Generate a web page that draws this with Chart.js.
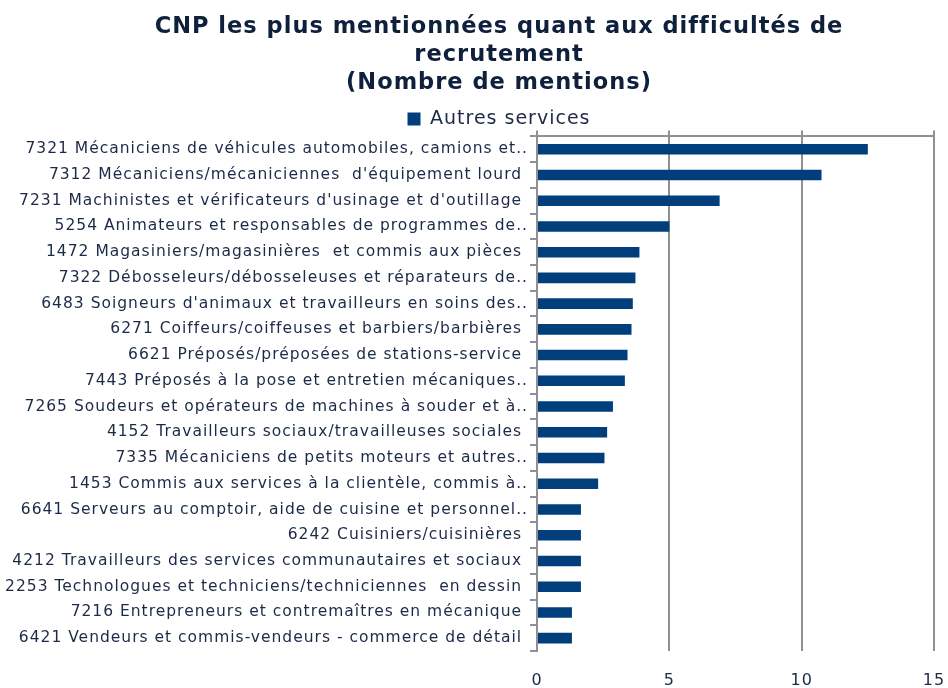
<!DOCTYPE html>
<html>
<head>
<meta charset="utf-8">
<script src="https://cdn.jsdelivr.net/npm/chart.js@4"></script>
<style>
  html, body { margin: 0; padding: 0; background: #fff; }
  #wrap { width: 948px; height: 688px; }
</style>
</head>
<body>
<div id="wrap"><canvas id="myChart"></canvas></div>
<script>
// CNP codes, as labelled on the chart (truncated ones keep their "..")
const categories = [
  '7321 Mécaniciens de véhicules automobiles, camions et..',
  '7312 Mécaniciens/mécaniciennes  d\'équipement lourd ',
  '7231 Machinistes et vérificateurs d\'usinage et d\'outillage ',
  '5254 Animateurs et responsables de programmes de..',
  '1472 Magasiniers/magasinières  et commis aux pièces ',
  '7322 Débosseleurs/débosseleuses et réparateurs de..',
  '6483 Soigneurs d\'animaux et travailleurs en soins des..',
  '6271 Coiffeurs/coiffeuses et barbiers/barbières ',
  '6621 Préposés/préposées de stations-service ',
  '7443 Préposés à la pose et entretien mécaniques..',
  '7265 Soudeurs et opérateurs de machines à souder et à..',
  '4152 Travailleurs sociaux/travailleuses sociales ',
  '7335 Mécaniciens de petits moteurs et autres..',
  '1453 Commis aux services à la clientèle, commis à..',
  '6641 Serveurs au comptoir, aide de cuisine et personnel..',
  '6242 Cuisiniers/cuisinières ',
  '4212 Travailleurs des services communautaires et sociaux ',
  '2253 Technologues et techniciens/techniciennes  en dessin ',
  '7216 Entrepreneurs et contremaîtres en mécanique ',
  '6421 Vendeurs et commis-vendeurs - commerce de détail '
];

// Nombre de mentions, "Autres services"
const autresServices = [12.5, 10.75, 6.9, 5.0, 3.87, 3.72, 3.62, 3.57, 3.42, 3.32,
  2.87, 2.65, 2.55, 2.31, 1.66, 1.66, 1.66, 1.66, 1.32, 1.32];

const xMin = 0;
const xMax = 15;
const xStep = 5;

const titleLines = [
  'CNP les plus mentionnées quant aux difficultés de',
  'recrutement',
  '(Nombre de mentions)'
];

const navy = '#1b2a47';
const barBlue = '#003e7c';
const gridGrey = '#8e9096';

// the original text is set wide, so add a little tracking to the canvas
// (set again before layout and draw, since a canvas resize resets the context)
const tracking = {
  id: 'tracking',
  beforeLayout(chart) { chart.ctx.letterSpacing = '1px'; },
  beforeDraw(chart) { chart.ctx.letterSpacing = '1px'; },
};

// title and legend are centred a bit right of the canvas centre in the original
const shiftHeader = {
  id: 'shiftHeader',
  afterLayout(chart) {
    if (chart.titleBlock) chart.titleBlock.left = 64;
    if (chart.legend) chart.legend.left = 64;
  },
};

const ctx = document.getElementById('myChart').getContext('2d');
new Chart(ctx, {
  type: 'bar',
  data: {
    labels: categories,
    datasets: [
      {
        label: 'Autres services',
        data: autresServices,
        backgroundColor: barBlue,
        borderWidth: 0,
        barPercentage: 0.41,
        categoryPercentage: 1,
      },
    ],
  },
  plugins: [tracking, shiftHeader],
  options: {
    indexAxis: 'y',
    responsive: true,
    maintainAspectRatio: false,
    animation: false,
    layout: { padding: { left: 0, right: 14, top: 0, bottom: 0 } },
    plugins: {
      title: {
        display: true,
        text: titleLines,
        color: '#0f203d',
        font: { family: 'DejaVu Sans', size: 22.5, weight: 'bold', lineHeight: 1.25 },
        padding: { top: 13, bottom: 12 },
      },
      legend: {
        display: true,
        maxHeight: 21,
        labels: {
          color: navy,
          font: { family: 'DejaVu Sans', size: 19 },
          boxWidth: 13,
          boxHeight: 13,
          padding: 0,
        },
      },
      tooltip: { enabled: false },
    },
    scales: {
      x: {
        position: 'bottom',
        min: xMin,
        max: xMax,
        ticks: {
          stepSize: xStep,
          color: navy,
          font: { family: 'DejaVu Sans', size: 16 },
          padding: 20,
        },
        grid: { color: gridGrey, lineWidth: 2, drawTicks: false },
        border: { display: false },
        afterFit: (scale) => {
          scale.height = 37;
          scale.paddingLeft = 0;
          scale.paddingRight = 0;
        },
      },
      x2: {
        type: 'linear',
        position: 'top',
        min: xMin,
        max: xMax,
        ticks: { display: false, stepSize: xStep },
        grid: { color: gridGrey, lineWidth: 2, drawOnChartArea: false, tickLength: 6 },
        border: { display: true, color: gridGrey, width: 2 },
      },
      y: {
        ticks: {
          color: navy,
          font: { family: 'DejaVu Sans', size: 15.5 },
          padding: 2,
          autoSkip: false,
        },
        grid: { color: gridGrey, lineWidth: 2, drawOnChartArea: false, tickLength: 7, offset: true },
        border: { display: true, color: gridGrey, width: 2 },
        afterFit: (scale) => { scale.width = 537; },
      },
    },
  },
});
</script>
</body>
</html>
